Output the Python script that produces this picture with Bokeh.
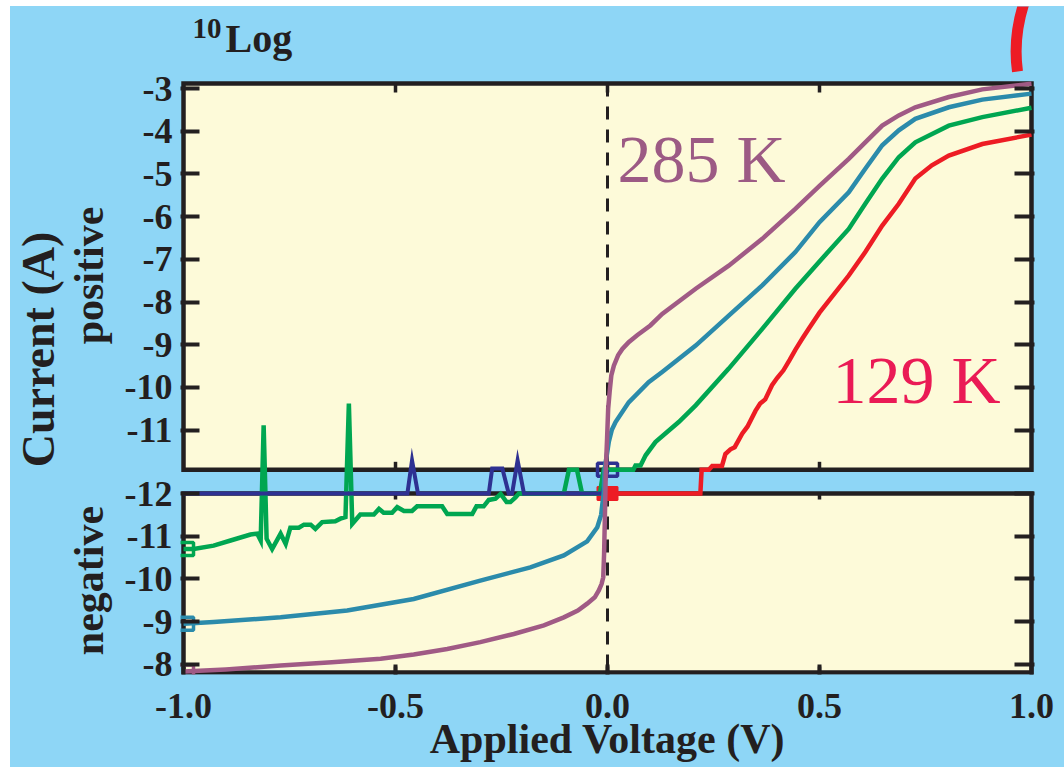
import math
from bokeh.plotting import figure
from bokeh.layouts import row
from bokeh.models import Range1d, LinearAxis, FixedTicker, Label
from bokeh.core.properties import value
from bokeh.embed import file_html
from bokeh.resources import INLINE

# ---------------- data: applied voltage (V), log10 |I| (A), branch ----------------
# branch "+" : positive current (upper panel), "-" : negative current (lower, inverted panel)

K285_V = [-1.0, -0.9, -0.771, -0.65, -0.535, -0.457, -0.378, -0.3, -0.221, -0.15,
          -0.103, -0.07, -0.048, -0.03, -0.0205, -0.014, -0.010, -0.008, -0.0065, -0.005,
          -0.004, -0.001, 0.0016, 0.005, 0.009, 0.015, 0.025, 0.035, 0.05, 0.07,
          0.101, 0.129, 0.208, 0.286, 0.365, 0.443, 0.5, 0.569, 0.608, 0.648,
          0.687, 0.726, 0.805, 0.884, 1.0]
K285_LOG = [-7.83, -7.88, -7.97, -8.05, -8.13, -8.23, -8.36, -8.52, -8.71, -8.91,
            -9.10, -9.26, -9.42, -9.57, -9.73, -9.88, -10.04, -10.6, -11.3, -12.0,
            -11.93, -11.2, -10.5, -10.11, -9.72, -9.49, -9.25, -9.10, -8.94, -8.78,
            -8.55, -8.28, -7.69, -7.15, -6.52, -5.82, -5.28, -4.65, -4.26, -3.87,
            -3.63, -3.44, -3.20, -3.02, -2.89]
K285_BR = ["-"] * 20 + ["+"] * 25

TEAL_V = [-1.0, -0.929, -0.771, -0.614, -0.457, -0.3, -0.182, -0.103, -0.048, -0.024,
          -0.015, -0.011, -0.009,
          -0.007, 0.003, 0.010, 0.019, 0.05, 0.097, 0.129, 0.208, 0.286, 0.365,
          0.443, 0.5, 0.569, 0.608, 0.648, 0.687, 0.726, 0.805, 0.884, 1.0]
TEAL_LOG = [-8.95, -8.99, -9.10, -9.26, -9.53, -9.96, -10.27, -10.55, -10.88, -11.21,
            -11.5, -11.85, -12.0,
            -11.93, -11.28, -11.0, -10.81, -10.35, -9.88, -9.64, -9.02, -8.32, -7.61,
            -6.83, -6.13, -5.43, -4.88, -4.33, -3.98, -3.71, -3.44, -3.26, -3.12]
TEAL_BR = ["-"] * 13 + ["+"] * 20

GREEN_V = [-1.0, -0.976, -0.929, -0.889, -0.842, -0.826, -0.818, -0.811, -0.804, -0.791,
           -0.771, -0.759, -0.748, -0.728, -0.716, -0.700, -0.689, -0.673, -0.642, -0.630,
           -0.618, -0.610, -0.602, -0.583, -0.551, -0.539, -0.528, -0.508, -0.496, -0.480,
           -0.461, -0.449, -0.390, -0.378, -0.319, -0.309, -0.292, -0.280, -0.264, -0.252,
           -0.238, -0.229, -0.217, -0.209, -0.103, -0.091, -0.072, -0.060, -0.018, -0.009,
           0.061, 0.066, 0.078, 0.090, 0.113, 0.168, 0.208, 0.286, 0.365, 0.443,
           0.5, 0.569, 0.608, 0.648, 0.687, 0.726, 0.805, 0.884, 1.0]
GREEN_LOG = [-10.70, -10.70, -10.78, -10.90, -11.04, -11.06, -10.90, -10.89, -10.94, -10.70,
             -11.06, -10.82, -11.20, -11.20, -11.27, -11.27, -11.17, -11.33, -11.35, -11.41,
             -11.45, -10.38, -11.29, -11.51, -11.51, -11.64, -11.55, -11.55, -11.68, -11.59,
             -11.59, -11.70, -11.70, -11.52, -11.52, -11.70, -11.70, -11.85, -11.88, -11.99,
             -11.80, -11.80, -11.91, -12.0, -12.0, -11.93, -11.93, -12.0, -12.0, -11.93,
             -11.93, -11.83, -11.83, -11.59, -11.28, -10.81, -10.42, -9.56, -8.63, -7.69,
             -7.05, -6.29, -5.70, -5.11, -4.61, -4.26, -3.87, -3.67, -3.45]
GREEN_BR = (["-"] * 7 + ["+"] + ["-"] * 13 + ["+"] + ["-"] * 23 + ["+", "+"] + ["-", "-"]
            + ["+"] * 20)

NAVY_V = [-1.0, -0.472, -0.461, -0.447, -0.280, -0.272, -0.248, -0.233, -0.225, -0.212,
          -0.197, -0.012, 0.0]
NAVY_LOG = [-12.0, -12.0, -11.71, -12.0, -12.0, -11.9, -11.9, -12.0, -12.0, -11.71,
            -12.0, -12.0, -11.93]
NAVY_BR = ["-", "-", "+", "-", "-", "+", "+", "-", "-", "+", "-", "-", "+"]

K129_V = [0.0, 0.219, 0.222, 0.239, 0.247, 0.270, 0.278, 0.290, 0.300, 0.318,
          0.330, 0.349, 0.360, 0.372, 0.388, 0.400, 0.415, 0.430, 0.443, 0.460,
          0.475, 0.5, 0.569, 0.608, 0.648, 0.687, 0.726, 0.765, 0.805, 0.884, 1.0]
K129_LOG = [-12.0, -12.0, -11.93, -11.93, -11.84, -11.84, -11.56, -11.45, -11.40, -11.08,
            -10.92, -10.55, -10.38, -10.28, -9.95, -9.78, -9.60, -9.35, -9.12, -8.85,
            -8.62, -8.25, -7.38, -6.83, -6.21, -5.70, -5.11, -4.80, -4.57, -4.30, -4.08]
K129_BR = ["-", "-"] + ["+"] * 29

# sweep start markers
OPEN_MARK_V = [-1.0, -1.0, -1.0, 0.0]
OPEN_MARK_LOG = [-10.70, -8.95, -7.83, -11.93]
OPEN_MARK_BR = ["-", "-", "-", "+"]
FILLED_MARK_V = [0.0]
FILLED_MARK_LOG = [-12.0]
FILLED_MARK_BR = ["-"]

Y_TICKS_POS = [-3, -4, -5, -6, -7, -8, -9, -10, -11]
Y_TICKS_NEG = [-12, -11, -10, -9, -8]
X_TICKS = [-1.0, -0.5, 0.0, 0.5, 1.0]
X_LABELS = ["-1.0", "-0.5", "0.0", "0.5", "1.0"]
X_INNER_TICKS = [-0.5, 0.0, 0.5]

# ---------------- geometry / styles ----------------
NEG_OFFSET = -24.485          # lower panel inverted: y = NEG_OFFSET - log|I|
UPPER_TOP = -2.883
UPPER_FLOOR = -11.93
LOWER_TOP = NEG_OFFSET + 12.0
LOWER_BOTTOM = -16.677
PXD = 42.7                    # px per decade

BLUE = "#8ed6f6"
YELLOW = "#fdfad9"
INK = "#231f20"
C_PURPLE = "#a05a85"
C_TEAL = "#2b8bab"
C_GREEN = "#00a651"
C_RED = "#ed1c24"
C_NAVY = "#2e3192"
SERIF = "Liberation Serif"

PAGE_X0, PAGE_Y0 = 10, 6      # white strip of the reference
LEFT_W = 110
TOTAL_W, TOTAL_H = 1054, 761
FRAME_BOTTOM = 674            # page px of the bottom of the plotting frame


def ymap(logs, brs):
    return [l if b == "+" else NEG_OFFSET - l for l, b in zip(logs, brs)]


def xd(px):   # page pixel -> data x (annotation placement)
    return (px - 607) / 424.0


def yd(py):   # page pixel -> data y
    return -3 - (py - 88) / PXD


# ---------------- left strip with the vertical titles ----------------
pl = figure(width=LEFT_W, height=TOTAL_H,
            x_range=Range1d(PAGE_X0, PAGE_X0 + LEFT_W), y_range=Range1d(FRAME_BOTTOM, PAGE_Y0),
            output_backend="svg", toolbar_location=None,
            x_axis_location=None, y_axis_location=None,
            min_border=0, background_fill_color=BLUE, border_fill_color=BLUE,
            outline_line_color=None)
pl.grid.visible = False
pl.text(x=[38], y=[349], text=["Current (A)"], angle=math.pi / 2,
        text_font=value(SERIF), text_font_style="bold", text_font_size="46px",
        text_color=INK, text_align="center", text_baseline="middle")
pl.text(x=[88, 88], y=[275, 580], text=["positive", "negative"], angle=math.pi / 2,
        text_font=value(SERIF), text_font_style="bold", text_font_size="42px",
        text_color=INK, text_align="center", text_baseline="middle")

# ---------------- main plot ----------------
p = figure(width=TOTAL_W - LEFT_W, height=TOTAL_H,
           x_range=Range1d(-1.0071, 1.0071), y_range=Range1d(yd(FRAME_BOTTOM), yd(PAGE_Y0)),
           output_backend="svg", toolbar_location=None,
           x_axis_location=None, y_axis_location=None,
           min_border_left=60, min_border_right=30, min_border_top=0,
           min_border_bottom=PAGE_Y0 + TOTAL_H - FRAME_BOTTOM,
           background_fill_color=BLUE, border_fill_color=BLUE, outline_line_color=None)
p.grid.visible = False

# panel fills
p.quad(left=[-1, -1], right=[1, 1], bottom=[UPPER_FLOOR, LOWER_BOTTOM], top=[UPPER_TOP, LOWER_TOP],
       fill_color=YELLOW, line_color=None)

# zero-voltage dashed line
p.segment(x0=[0, 0], y0=[UPPER_TOP, LOWER_TOP], x1=[0, 0], y1=[UPPER_FLOOR, LOWER_BOTTOM],
          line_color=INK, line_width=3, line_dash="13 10")

# frames
p.quad(left=[-1, -1], right=[1, 1], bottom=[UPPER_FLOOR, LOWER_BOTTOM], top=[UPPER_TOP, LOWER_TOP],
       fill_color=None, line_color=INK, line_width=4.5, line_join="miter")

# inner x ticks on panel borders
n = len(X_INNER_TICKS)
p.segment(x0=X_INNER_TICKS * 4, x1=X_INNER_TICKS * 4,
          y0=[UPPER_TOP] * n + [UPPER_FLOOR] * n + [LOWER_TOP] * n + [LOWER_BOTTOM] * n,
          y1=[UPPER_TOP - 9 / PXD] * n + [UPPER_FLOOR + 8 / PXD] * n
             + [LOWER_TOP - 6 / PXD] * n + [LOWER_BOTTOM + 6 / PXD] * n,
          line_color=INK, line_width=3.5)

# markers (rectangular open squares)
open_colors = [C_GREEN, C_TEAL, C_PURPLE, C_NAVY]
p.rect(x=OPEN_MARK_V, y=ymap(OPEN_MARK_LOG, OPEN_MARK_BR), width=20, height=13,
       width_units="screen", height_units="screen", fill_color=None,
       line_color=open_colors, line_width=3.5)
p.rect(x=FILLED_MARK_V, y=ymap(FILLED_MARK_LOG, FILLED_MARK_BR), width=20, height=13,
       width_units="screen", height_units="screen", fill_color=C_RED,
       line_color=C_RED, line_width=2)

# data curves
for vx, lg, br, col, lw in [
    (GREEN_V, GREEN_LOG, GREEN_BR, C_GREEN, 4.5),
    (NAVY_V, NAVY_LOG, NAVY_BR, C_NAVY, 4),
    (K129_V, K129_LOG, K129_BR, C_RED, 4.5),
    (TEAL_V, TEAL_LOG, TEAL_BR, C_TEAL, 4.5),
    (K285_V, K285_LOG, K285_BR, C_PURPLE, 4.5),
]:
    p.line(x=vx, y=ymap(lg, br), line_color=col, line_width=lw, line_join="miter")

# red arc decoration (top right)
p.quadratic(x0=[xd(1025)], y0=[yd(-2)], x1=[xd(1017)], y1=[yd(71)], cx=[xd(1012)], cy=[yd(35)],
            line_color=C_RED, line_width=11)

# axes
yt = [float(v) for v in Y_TICKS_POS] + [round(NEG_OFFSET - w, 3) for w in Y_TICKS_NEG]
ylab = {float(v): str(v) for v in Y_TICKS_POS}
ylab.update({round(NEG_OFFSET - w, 3): str(w) for w in Y_TICKS_NEG})


def style_axis(ax, tick_in):
    ax.axis_line_color = None
    ax.major_tick_in = tick_in
    ax.major_tick_out = 0
    ax.major_tick_line_width = 4
    ax.major_tick_line_color = INK
    ax.minor_tick_line_color = None
    ax.major_label_text_font = SERIF
    ax.major_label_text_font_style = "bold"
    ax.major_label_text_font_size = "36px"
    ax.major_label_text_color = INK


left = LinearAxis(ticker=FixedTicker(ticks=yt, minor_ticks=[]), major_label_overrides=ylab)
style_axis(left, 19)
left.major_label_standoff = 8
p.add_layout(left, "left")

right = LinearAxis(ticker=FixedTicker(ticks=yt, minor_ticks=[]),
                   major_label_overrides={t: "" for t in yt})
style_axis(right, 20)
p.add_layout(right, "right")

bottom = LinearAxis(ticker=FixedTicker(ticks=X_TICKS, minor_ticks=[]),
                    major_label_overrides=dict(zip(X_TICKS, X_LABELS)),
                    axis_label="Applied Voltage (V)")
style_axis(bottom, 10)
bottom.major_label_standoff = 19
bottom.axis_label_text_font = SERIF
bottom.axis_label_text_font_style = "bold"
bottom.axis_label_text_font_size = "42px"
bottom.axis_label_text_color = INK
bottom.axis_label_standoff = -5
p.add_layout(bottom, "below")


# texts inside the frame (y = vertical centre of the glyphs)
def lab(x, y, text, size, color=INK, style="bold"):
    p.add_layout(Label(x=x, y=y, text=text, text_font=SERIF, text_font_style=style,
                       text_font_size=size, text_color=color, text_align="left",
                       text_baseline="middle"))


lab(xd(192), yd(28), "10", "29px")
lab(xd(225), yd(38), "Log", "40px")
lab(xd(617), yd(158), "285 K", "68px", color="#9c5a84", style="normal")
lab(xd(832), yd(379), "129 K", "68px", color="#ea1a55", style="normal")

layout = row(pl, p, margin=(PAGE_Y0, 0, 0, PAGE_X0), styles={"background-color": BLUE})
open("out.html", "w").write(file_html(layout, INLINE))
